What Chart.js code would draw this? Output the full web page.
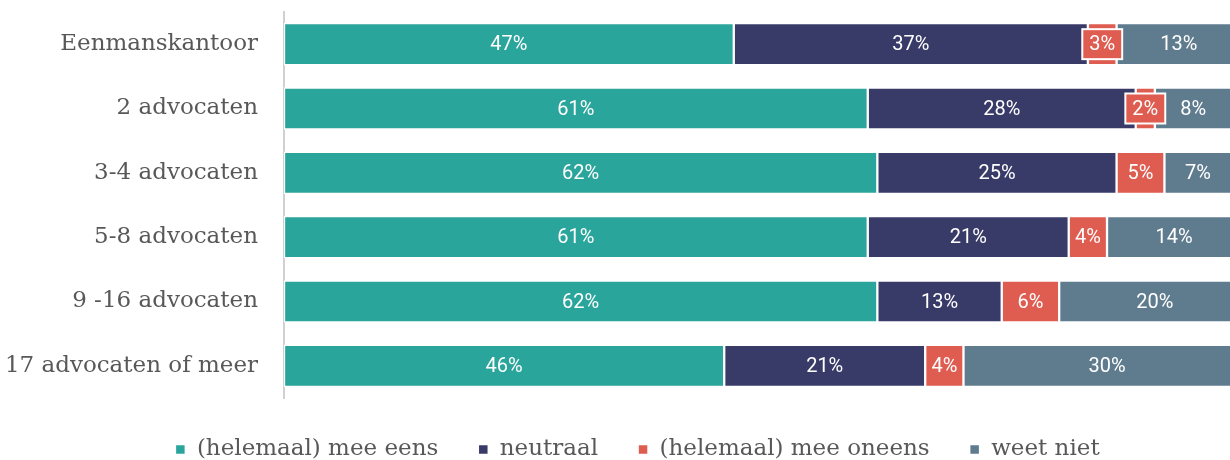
<!DOCTYPE html>
<html>
<head>
<meta charset="utf-8">
<script src="https://cdn.jsdelivr.net/npm/chart.js@4.4.1/dist/chart.umd.min.js"></script>
<style>
  html, body { margin: 0; padding: 0; background: #fff; overflow: hidden; }
  #wrap { position: absolute; left: 0; top: 0; width: 1275px; height: 460px; }
</style>
</head>
<body>
<div id="wrap"><canvas id="chart"></canvas></div>
<script>
const categories = ['Eenmanskantoor', '2 advocaten', '3-4 advocaten', '5-8 advocaten', '9 -16 advocaten', '17 advocaten of meer'];
const seriesNames = ['(helemaal) mee eens', 'neutraal', '(helemaal) mee oneens', 'weet niet'];
const meeEens = [47, 61, 62, 61, 62, 46];
const neutraal = [37, 28, 25, 21, 13, 21];
const meeOneens = [3, 2, 5, 4, 6, 4];
const weetNiet = [13, 8, 7, 14, 20, 30];

const colors = ['#2aa59b', '#383a68', '#df5c51', '#5f7b8e'];
const labelFont = 'DejaVu Serif';
const textGray = '#585858';

// waarden in de balken, kleine segmenten krijgen een kader
const barLabels = {
  id: 'barLabels',
  afterDatasetsDraw(chart) {
    const ctx = chart.ctx;
    ctx.save();
    ctx.font = '400 20px Roboto';
    ctx.textAlign = 'center';
    ctx.textBaseline = 'middle';
    chart.data.datasets.forEach((ds, di) => {
      const meta = chart.getDatasetMeta(di);
      meta.data.forEach((bar, i) => {
        const cx = (bar.x + bar.base) / 2;
        const cy = bar.y;
        const w = Math.abs(bar.x - bar.base);
        const txt = ds.data[i] + '%';
        if (cx > chart.chartArea.right) return;
        if (w < 32) {
          const tw = ctx.measureText(txt).width + 12;
          ctx.fillStyle = '#fff';
          ctx.fillRect(cx - tw / 2 - 2, cy - 16, tw + 4, 32);
          ctx.fillStyle = ds.backgroundColor;
          ctx.fillRect(cx - tw / 2, cy - 14, tw, 28);
        }
        ctx.fillStyle = '#fff';
        ctx.fillText(txt, cx, cy + 1);
      });
    });
    ctx.restore();
  }
};

const values = [meeEens, neutraal, meeOneens, weetNiet];

new Chart(document.getElementById('chart'), {
  type: 'bar',
  data: {
    labels: categories,
    datasets: seriesNames.map((name, i) => ({
      label: name,
      data: values[i],
      backgroundColor: colors[i],
      borderColor: '#fff',
      borderWidth: 1.5,
      borderSkipped: false,
      barThickness: 42
    }))
  },
  options: {
    indexAxis: 'y',
    responsive: true,
    maintainAspectRatio: false,
    animation: false,
    layout: { padding: { top: 12, left: 0, right: 0, bottom: 0 } },
    scales: {
      x: { stacked: true, display: false, min: 0, max: 100 },
      y: {
        stacked: true,
        grid: { display: false, drawTicks: false },
        border: { display: true, color: '#d0d0d0', width: 2 },
        ticks: {
          padding: 26,
          color: textGray,
          font: { family: labelFont, size: 23 }
        },
        afterFit(scale) {
          scale.width = 284;
          scale.paddingTop = 0;
          scale.paddingBottom = 0;
        }
      },
      // lege ruimte rechts: de grafiek loopt door tot buiten het beeld
      yRight: {
        type: 'category',
        position: 'right',
        grid: { display: false, drawTicks: false },
        border: { display: false },
        ticks: { display: false },
        afterFit(scale) {
          scale.width = 34;
          scale.paddingTop = 0;
          scale.paddingBottom = 0;
        }
      }
    },
    plugins: {
      legend: {
        position: 'bottom',
        maxHeight: 62,
        labels: {
          boxWidth: 10,
          boxHeight: 10,
          padding: 40,
          color: textGray,
          font: { family: labelFont, size: 23 }
        }
      },
      tooltip: { enabled: false }
    }
  },
  plugins: [barLabels]
});
</script>
</body>
</html>
